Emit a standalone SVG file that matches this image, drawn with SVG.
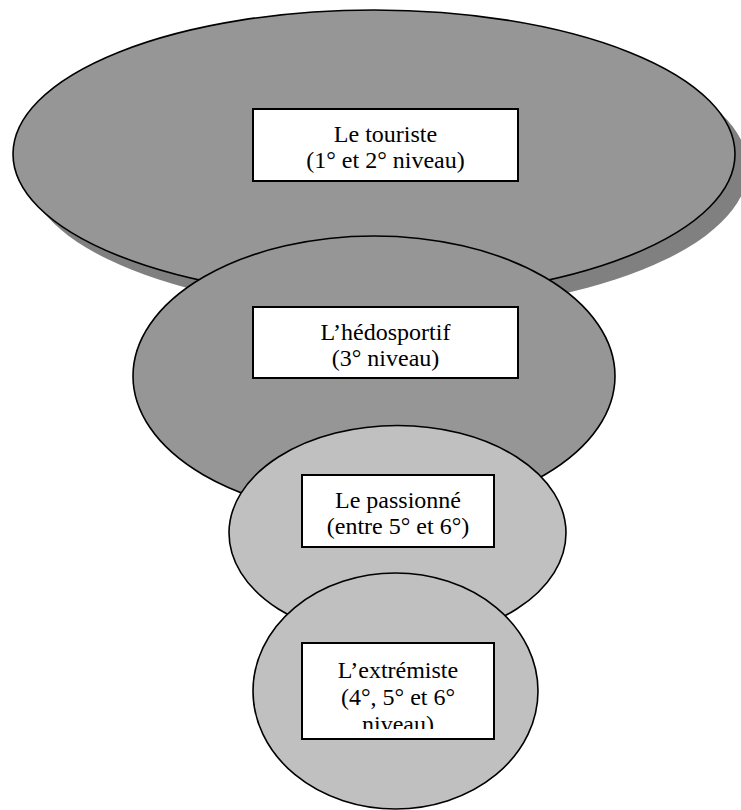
<svg xmlns="http://www.w3.org/2000/svg" width="741" height="810" viewBox="0 0 741 810">
  <style>
    .dark { fill: #969696; stroke: #000; stroke-width: 1.6; }
    .light { fill: #c0c0c0; stroke: #000; stroke-width: 1.6; }
    .shadow { fill: #808080; stroke: none; }
    .box { fill: #fff; stroke: #000; stroke-width: 2; }
    .lbl { font-family: "Liberation Serif", "Times New Roman", serif; font-size: 24px; fill: #000; text-anchor: middle; }
  </style>
  <defs>
    <clipPath id="clip4">
      <rect x="302" y="643" width="192" height="86"/>
    </clipPath>
  </defs>
  <rect width="741" height="810" fill="#fff"/>
  <g id="touriste">
    <ellipse class="shadow" cx="387" cy="168" rx="361" ry="144"/>
    <ellipse class="dark" cx="374" cy="154" rx="361" ry="144"/>
    <rect class="box" x="253" y="109" width="265" height="72"/>
    <text class="lbl" x="385.5" y="142">Le touriste</text>
    <text class="lbl" x="385.5" y="168">(1° et 2° niveau)</text>
  </g>
  <g id="hedosportif">
    <ellipse class="dark" cx="374" cy="376" rx="241" ry="140"/>
    <rect class="box" x="253" y="307" width="265" height="71"/>
    <text class="lbl" x="385.5" y="340">L’hédosportif</text>
    <text class="lbl" x="385.5" y="366">(3° niveau)</text>
  </g>
  <g id="passionne">
    <ellipse class="light" cx="397.5" cy="533" rx="168.5" ry="107.5"/>
    <rect class="box" x="302" y="475" width="192" height="72"/>
    <text class="lbl" x="398" y="508">Le passionné</text>
    <text class="lbl" x="398" y="534">(entre 5° et 6°)</text>
  </g>
  <g id="extremiste">
    <ellipse class="light" cx="395.5" cy="691" rx="142.5" ry="118"/>
    <rect class="box" x="302" y="643" width="192" height="96"/>
    <g clip-path="url(#clip4)">
      <text class="lbl" x="398" y="678">L’extrémiste</text>
      <text class="lbl" x="398" y="705">(4°, 5° et 6°</text>
      <text class="lbl" x="398" y="732">niveau)</text>
    </g>
  </g>
</svg>
